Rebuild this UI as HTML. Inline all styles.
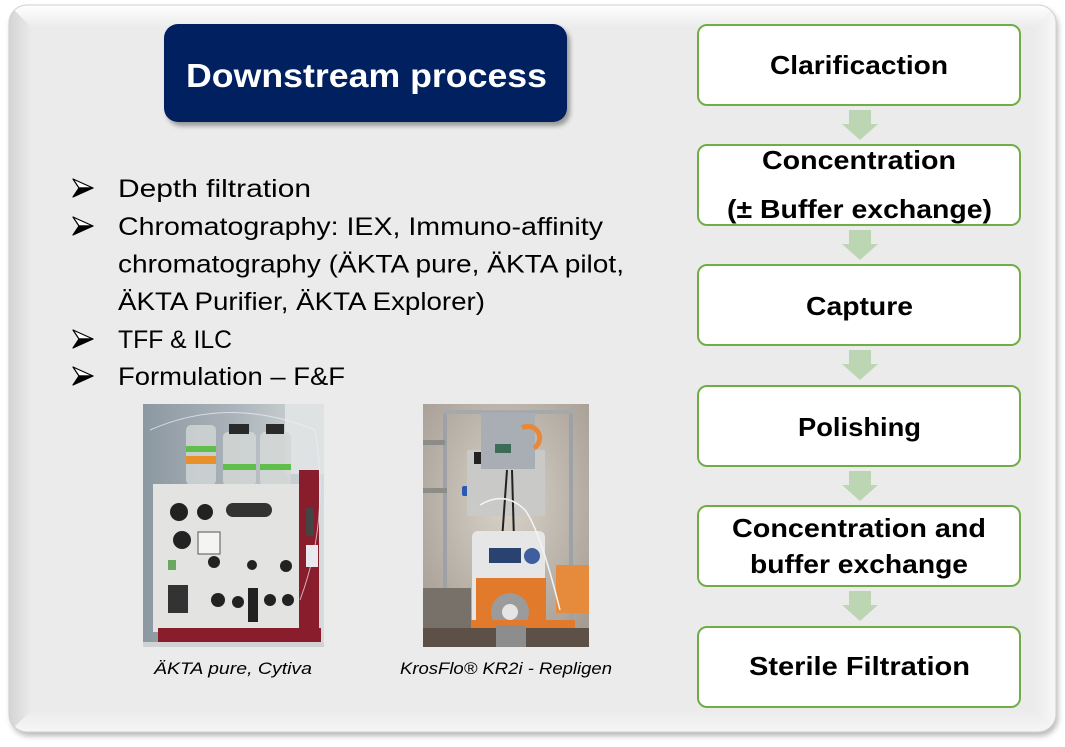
<!DOCTYPE html>
<html>
<head>
<meta charset="utf-8">
<style>
  html,body{margin:0;padding:0;background:#ffffff;}
  body{width:1065px;height:747px;overflow:hidden;}
  svg{display:block;}
  text{font-family:"Liberation Sans", sans-serif;}
</style>
</head>
<body>
<svg width="1065" height="747" viewBox="0 0 1065 747" xmlns="http://www.w3.org/2000/svg">
  <defs>
    <filter id="sh" x="-5%" y="-5%" width="110%" height="112%">
      <feGaussianBlur stdDeviation="3"/>
    </filter>
    <filter id="sh2" x="-10%" y="-10%" width="120%" height="130%">
      <feGaussianBlur stdDeviation="2.5"/>
    </filter>
    <linearGradient id="gTop" x1="0" y1="0" x2="0" y2="1">
      <stop offset="0" stop-color="#ffffff"/>
      <stop offset="1" stop-color="#ebebeb"/>
    </linearGradient>
    <linearGradient id="gLeft" x1="0" y1="0" x2="1" y2="0">
      <stop offset="0" stop-color="#d4d4d4"/>
      <stop offset="1" stop-color="#ebebeb"/>
    </linearGradient>
    <linearGradient id="gRight" x1="0" y1="0" x2="1" y2="0">
      <stop offset="0" stop-color="#ebebeb"/>
      <stop offset="1" stop-color="#f7f7f7"/>
    </linearGradient>
    <linearGradient id="gBot" x1="0" y1="0" x2="0" y2="1">
      <stop offset="0" stop-color="#ebebeb"/>
      <stop offset="1" stop-color="#f6f6f6"/>
    </linearGradient>
    <clipPath id="panelClip"><rect x="9" y="5" width="1047" height="727" rx="18"/></clipPath>
    <clipPath id="p1"><rect x="143" y="404" width="181" height="243"/></clipPath>
    <clipPath id="p2"><rect x="423" y="404" width="166" height="243"/></clipPath>
    <linearGradient id="bg1" x1="0" y1="0" x2="1" y2="0">
      <stop offset="0" stop-color="#8c98a1"/>
      <stop offset="0.5" stop-color="#aab3b9"/>
      <stop offset="1" stop-color="#d7dbdc"/>
    </linearGradient>
    <radialGradient id="bg2" cx="0.5" cy="0.4" r="0.7">
      <stop offset="0" stop-color="#d8d3ca"/>
      <stop offset="1" stop-color="#a59c92"/>
    </radialGradient>
  </defs>

  <!-- panel shadow -->
  <rect x="11" y="9" width="1047" height="727" rx="18" fill="#9a9a9a" filter="url(#sh)" opacity="0.7"/>
  <!-- panel -->
  <rect x="9" y="5" width="1047" height="727" rx="18" fill="#ebebeb"/>
  <g clip-path="url(#panelClip)">
    <polygon points="9,5 1056,5 1034,28 32,28" fill="url(#gTop)"/>
    <polygon points="9,5 32,28 32,710 9,732" fill="url(#gLeft)"/>
    <polygon points="1056,5 1056,732 1034,710 1034,28" fill="url(#gRight)"/>
    <polygon points="9,732 32,710 1034,710 1056,732" fill="url(#gBot)"/>
  </g>
  <rect x="9" y="5" width="1047" height="727" rx="18" fill="none" stroke="#d0d0d0" stroke-width="1"/>

  <!-- title -->
  <rect x="167" y="28" width="403" height="98" rx="14" fill="#555" opacity="0.55" filter="url(#sh2)"/>
  <rect x="164" y="24" width="403" height="98" rx="14" fill="#002060"/>
  <text x="366.5" y="87" text-anchor="middle" font-size="33" font-weight="bold" fill="#ffffff" textLength="361" lengthAdjust="spacingAndGlyphs">Downstream process</text>

  <!-- bullets -->
  <g fill="#000">
    <g>
      <polygon points="73,179 93,188 79,188" fill="#fff" stroke="#000" stroke-width="1.2" stroke-linejoin="round"/>
      <polygon points="79,188 93,188 73,197" fill="#000" stroke="#000" stroke-width="1.2" stroke-linejoin="round"/>
    </g>
    <g>
      <polygon points="73,217 93,226 79,226" fill="#fff" stroke="#000" stroke-width="1.2" stroke-linejoin="round"/>
      <polygon points="79,226 93,226 73,235" fill="#000" stroke="#000" stroke-width="1.2" stroke-linejoin="round"/>
    </g>
    <g>
      <polygon points="73,330 93,339 79,339" fill="#fff" stroke="#000" stroke-width="1.2" stroke-linejoin="round"/>
      <polygon points="79,339 93,339 73,348" fill="#000" stroke="#000" stroke-width="1.2" stroke-linejoin="round"/>
    </g>
    <g>
      <polygon points="73,367 93,376 79,376" fill="#fff" stroke="#000" stroke-width="1.2" stroke-linejoin="round"/>
      <polygon points="79,376 93,376 73,385" fill="#000" stroke="#000" stroke-width="1.2" stroke-linejoin="round"/>
    </g>
  </g>
  <g font-size="25" fill="#000">
    <text x="118" y="197" textLength="193" lengthAdjust="spacingAndGlyphs">Depth filtration</text>
    <text x="118" y="235" textLength="485" lengthAdjust="spacingAndGlyphs">Chromatography: IEX, Immuno-affinity</text>
    <text x="118" y="272.5" textLength="506" lengthAdjust="spacingAndGlyphs">chromatography (ÄKTA pure, ÄKTA pilot,</text>
    <text x="118" y="310" textLength="367" lengthAdjust="spacingAndGlyphs">ÄKTA Purifier, ÄKTA Explorer)</text>
    <text x="118" y="348" textLength="114" lengthAdjust="spacingAndGlyphs">TFF &amp; ILC</text>
    <text x="118" y="385" textLength="227" lengthAdjust="spacingAndGlyphs">Formulation – F&amp;F</text>
  </g>

  <!-- photo 1: AKTA pure -->
  <g clip-path="url(#p1)">
    <rect x="143" y="404" width="181" height="243" fill="url(#bg1)"/>
    <rect x="285" y="404" width="39" height="70" fill="#dfe2e2"/>
    <!-- bottles -->
    <rect x="186" y="425" width="30" height="60" rx="5" fill="#cdd3d3" opacity="0.9"/>
    <rect x="223" y="432" width="33" height="54" rx="5" fill="#d0d5d4" opacity="0.9"/>
    <rect x="260" y="432" width="31" height="54" rx="5" fill="#d3d7d6" opacity="0.9"/>
    <rect x="229" y="424" width="20" height="10" fill="#2a2a2a"/>
    <rect x="266" y="424" width="18" height="10" fill="#2a2a2a"/>
    <rect x="186" y="446" width="30" height="6" fill="#5fbf4a"/>
    <rect x="186" y="456" width="30" height="8" fill="#e8902a"/>
    <rect x="223" y="464" width="33" height="6" fill="#5fbf4a"/>
    <rect x="260" y="464" width="31" height="6" fill="#5fbf4a"/>
    <!-- body -->
    <rect x="153" y="484" width="150" height="148" fill="#e3e3e1"/>
    <rect x="226" y="503" width="46" height="14" rx="7" fill="#333"/>
    <circle cx="179" cy="512" r="9" fill="#222"/>
    <circle cx="205" cy="512" r="8" fill="#222"/>
    <circle cx="182" cy="540" r="9" fill="#222"/>
    <rect x="198" y="532" width="22" height="22" fill="#f4f4f4" stroke="#555"/>
    <circle cx="214" cy="562" r="6" fill="#222"/>
    <rect x="168" y="585" width="20" height="28" fill="#333"/>
    <circle cx="218" cy="600" r="7" fill="#222"/>
    <circle cx="238" cy="602" r="6" fill="#222"/>
    <rect x="248" y="588" width="10" height="34" fill="#222"/>
    <circle cx="270" cy="600" r="6" fill="#222"/>
    <circle cx="288" cy="600" r="6" fill="#222"/>
    <circle cx="286" cy="566" r="6" fill="#222"/>
    <circle cx="252" cy="565" r="5" fill="#222"/>
    <rect x="168" y="560" width="8" height="10" fill="#6aa860"/>
    <!-- red side -->
    <rect x="299" y="470" width="20" height="165" fill="#8a1d2c"/>
    <rect x="306" y="508" width="8" height="28" rx="2" fill="#444"/>
    <rect x="306" y="545" width="12" height="22" fill="#e8e8ee"/>
    <rect x="158" y="628" width="163" height="14" fill="#8a1d2c"/>
    <rect x="143" y="642" width="181" height="5" fill="#cfd3d4"/>
    <!-- tubing hint -->
    <path d="M150 430 Q230 395 315 430 Q330 520 300 600" fill="none" stroke="#eef" stroke-width="1" opacity="0.7"/>
  </g>

  <!-- photo 2: KrosFlo -->
  <g clip-path="url(#p2)">
    <rect x="423" y="404" width="166" height="243" fill="url(#bg2)"/>
    <!-- frame -->
    <rect x="443" y="412" width="4" height="215" fill="#9ea2a6"/>
    <rect x="569" y="412" width="4" height="215" fill="#9ea2a6"/>
    <rect x="443" y="410" width="130" height="4" rx="2" fill="#a5a9ad"/>
    <rect x="423" y="440" width="22" height="5" fill="#8c8c88"/>
    <rect x="423" y="488" width="24" height="5" fill="#8c8c88"/>
    <rect x="462" y="486" width="8" height="10" rx="2" fill="#2c5ab0"/>
    <!-- gray panel -->
    <rect x="467" y="450" width="78" height="66" fill="#c9c9c7"/>
    <!-- controller -->
    <rect x="481" y="413" width="54" height="56" fill="#a8aeb4"/>
    <rect x="495" y="444" width="16" height="9" fill="#3d6b57"/>
    <path d="M522 428 A10 10 0 0 1 534 448" fill="none" stroke="#e8893a" stroke-width="5"/>
    <rect x="474" y="452" width="7" height="12" fill="#222"/>
    <path d="M507 470 L502 540 M512 470 L514 540" stroke="#222" stroke-width="2" fill="none"/>
    <!-- pump -->
    <rect x="472" y="531" width="73" height="96" rx="6" fill="#e6e6e6"/>
    <rect x="489" y="548" width="32" height="15" fill="#2a4270"/>
    <circle cx="532" cy="556" r="8" fill="#3d5fa0"/>
    <rect x="476" y="578" width="70" height="45" fill="#e27a2b"/>
    <circle cx="510" cy="612" r="19" fill="#9b9b9b"/>
    <circle cx="510" cy="612" r="8" fill="#e5e5e5"/>
    <rect x="556" y="565" width="33" height="48" fill="#e68a3c"/>
    <rect x="470" y="620" width="105" height="8" fill="#e27a2b"/>
    <rect x="423" y="588" width="48" height="59" fill="#77716a"/>
    <rect x="423" y="628" width="166" height="19" fill="#5c5047"/>
    <rect x="496" y="625" width="30" height="22" fill="#8d8d8d"/>
    <path d="M480 505 Q505 490 525 510 Q540 530 560 610" fill="none" stroke="#f4f4f4" stroke-width="1.5"/>
  </g>

  <!-- captions -->
  <g font-size="17" font-style="italic" fill="#000">
    <text x="233" y="674" text-anchor="middle" textLength="158" lengthAdjust="spacingAndGlyphs">ÄKTA pure, Cytiva</text>
    <text x="506" y="674" text-anchor="middle" textLength="212" lengthAdjust="spacingAndGlyphs">KrosFlo® KR2i - Repligen</text>
  </g>

  <!-- flow boxes -->
  <g fill="#ffffff" stroke="#70ad47" stroke-width="2">
    <rect x="698" y="25" width="322" height="80" rx="9"/>
    <rect x="698" y="145" width="322" height="80" rx="9"/>
    <rect x="698" y="265" width="322" height="80" rx="9"/>
    <rect x="698" y="386" width="322" height="80" rx="9"/>
    <rect x="698" y="506" width="322" height="80" rx="9"/>
    <rect x="698" y="627" width="322" height="80" rx="9"/>
  </g>

  <!-- arrows -->
  <g fill="#bcd6b4">
    <polygon points="849,110 871,110 871,124 878,124 860,140 842,124 849,124"/>
    <polygon points="849,230 871,230 871,244 878,244 860,260 842,244 849,244"/>
    <polygon points="849,350 871,350 871,364 878,364 860,380 842,364 849,364"/>
    <polygon points="849,471 871,471 871,485 878,485 860,501 842,485 849,485"/>
    <polygon points="849,591 871,591 871,605 878,605 860,621 842,605 849,605"/>
  </g>

  <!-- box text -->
  <g font-size="26" font-weight="bold" fill="#000" text-anchor="middle">
    <text x="859" y="74" textLength="178" lengthAdjust="spacingAndGlyphs">Clarificaction</text>
    <text x="859" y="169" textLength="194" lengthAdjust="spacingAndGlyphs">Concentration</text>
    <text x="859.5" y="218" textLength="265" lengthAdjust="spacingAndGlyphs">(± Buffer exchange)</text>
    <text x="859.5" y="315" textLength="107" lengthAdjust="spacingAndGlyphs">Capture</text>
    <text x="859.5" y="436" textLength="123" lengthAdjust="spacingAndGlyphs">Polishing</text>
    <text x="859" y="537" textLength="254" lengthAdjust="spacingAndGlyphs">Concentration and</text>
    <text x="859" y="573" textLength="218" lengthAdjust="spacingAndGlyphs">buffer exchange</text>
    <text x="859.5" y="675" textLength="221" lengthAdjust="spacingAndGlyphs">Sterile Filtration</text>
  </g>
</svg>
</body>
</html>
